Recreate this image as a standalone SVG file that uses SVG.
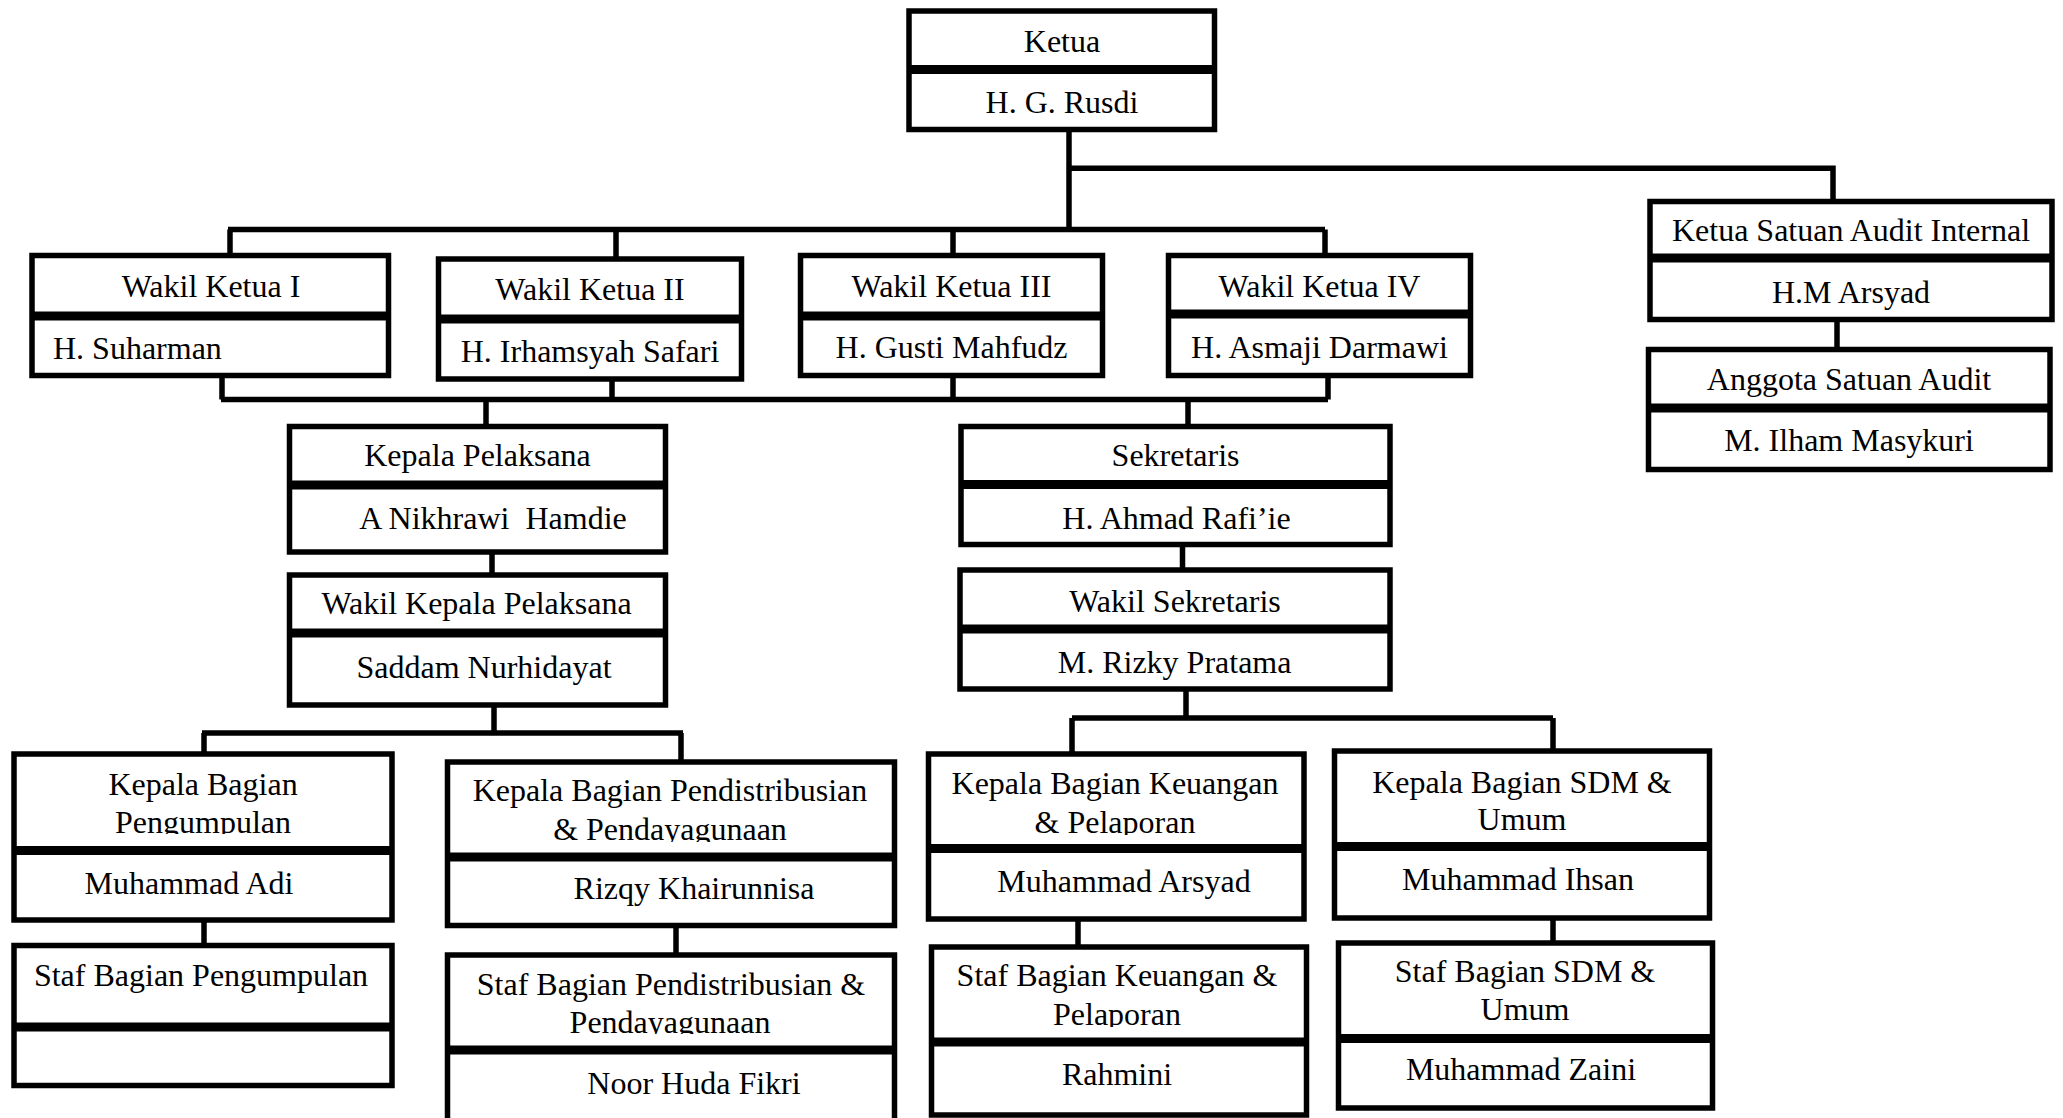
<svg xmlns="http://www.w3.org/2000/svg" width="2063" height="1118" viewBox="0 0 2063 1118">
<style>
.box{fill:#fff;stroke:#000;stroke-width:5.5}
.dv{stroke:#000;stroke-width:9}
.conn{stroke:#000;stroke-width:5.5;fill:none}
text{font-family:"Liberation Serif","Times New Roman",serif;font-size:32px;fill:#000}
.c{text-anchor:middle}
</style>
<defs>
<clipPath id="clipKBP"><rect x="0" y="700" width="420" height="134"/></clipPath>
<clipPath id="clipKBD"><rect x="440" y="700" width="460" height="142"/></clipPath>
<clipPath id="clipSBD"><rect x="440" y="900" width="460" height="134"/></clipPath>
<clipPath id="clipKBK"><rect x="920" y="700" width="390" height="135"/></clipPath>
<clipPath id="clipSBK"><rect x="920" y="900" width="390" height="127"/></clipPath>
</defs>
<g id="connectors">
<path class="conn" d="M1069 132V229.5M1069 168.3H1833V199"/>
<path class="conn" d="M228 229.5H1325M230 229.5V253M616 229.5V257M953 229.5V253M1325 229.5V253"/>
<path class="conn" d="M221 399.5H1328M222 378V399.5M612 381V399.5M953 378V399.5M1328 378V399.5M486 399.5V424M1188 399.5V424"/>
<path class="conn" d="M1837 319.5V347"/>
<path class="conn" d="M492 552V573M494 705V733M202 733H683M204 733V753M681 733V760"/>
<path class="conn" d="M204 920V943M676 925V953"/>
<path class="conn" d="M1182.5 544V568M1186 689V718M1072 718H1553M1072 718V752M1553 718V749"/>
<path class="conn" d="M1078 919V945M1553 918V941"/>
</g>
<g id="ketua">
<rect class="box" x="909" y="11" width="305.5" height="118.5"/>
<line class="dv" x1="909" y1="69.5" x2="1214.5" y2="69.5"/>
<text class="c" x="1062" y="52.3">Ketua</text>
<text class="c" x="1062" y="113.3">H. G. Rusdi</text>
</g>
<g id="wakil1">
<rect class="box" x="32" y="255.5" width="356.5" height="120"/>
<line class="dv" x1="32" y1="316" x2="388.5" y2="316"/>
<text class="c" x="211" y="297">Wakil Ketua I</text>
<text x="53" y="359">H. Suharman</text>
</g>
<g id="wakil2">
<rect class="box" x="438.5" y="259" width="303" height="120"/>
<line class="dv" x1="438.5" y1="319" x2="741.5" y2="319"/>
<text class="c" x="590" y="300">Wakil Ketua II</text>
<text class="c" x="590" y="362">H. Irhamsyah Safari</text>
</g>
<g id="wakil3">
<rect class="box" x="800.5" y="255.5" width="302" height="120"/>
<line class="dv" x1="800.5" y1="316" x2="1102.5" y2="316"/>
<text class="c" x="951.5" y="297">Wakil Ketua III</text>
<text class="c" x="951.5" y="358">H. Gusti Mahfudz</text>
</g>
<g id="wakil4">
<rect class="box" x="1168.5" y="255.5" width="302" height="120"/>
<line class="dv" x1="1168.5" y1="314" x2="1470.5" y2="314"/>
<text class="c" x="1319.5" y="297">Wakil Ketua IV</text>
<text class="c" x="1319.5" y="358">H. Asmaji Darmawi</text>
</g>
<g id="ketua-sai">
<rect class="box" x="1650" y="201.5" width="402" height="118"/>
<line class="dv" x1="1650" y1="258" x2="2052" y2="258"/>
<text class="c" x="1851" y="241">Ketua Satuan Audit Internal</text>
<text class="c" x="1851" y="303">H.M Arsyad</text>
</g>
<g id="anggota-sai">
<rect class="box" x="1648.5" y="349.5" width="401.5" height="120"/>
<line class="dv" x1="1648.5" y1="408" x2="2050" y2="408"/>
<text class="c" x="1849" y="390">Anggota Satuan Audit</text>
<text class="c" x="1849" y="451">M. Ilham Masykuri</text>
</g>
<g id="kepala-pelaksana">
<rect class="box" x="289.5" y="426.5" width="376" height="125.5"/>
<line class="dv" x1="289.5" y1="485" x2="665.5" y2="485"/>
<text class="c" x="477.5" y="466">Kepala Pelaksana</text>
<text class="c" x="493" y="529" xml:space="preserve">A Nikhrawi  Hamdie</text>
</g>
<g id="wakil-kepala-pelaksana">
<rect class="box" x="289.5" y="575" width="376" height="130"/>
<line class="dv" x1="289.5" y1="633" x2="665.5" y2="633"/>
<text class="c" x="476.5" y="614">Wakil Kepala Pelaksana</text>
<text class="c" x="484" y="678">Saddam Nurhidayat</text>
</g>
<g id="sekretaris">
<rect class="box" x="961" y="426.5" width="429" height="118"/>
<line class="dv" x1="961" y1="484.5" x2="1390" y2="484.5"/>
<text class="c" x="1175.6" y="466">Sekretaris</text>
<text class="c" x="1176.5" y="529">H. Ahmad Rafi’ie</text>
</g>
<g id="wakil-sekretaris">
<rect class="box" x="960" y="570" width="430" height="119"/>
<line class="dv" x1="960" y1="629" x2="1390" y2="629"/>
<text class="c" x="1175" y="611.5">Wakil Sekretaris</text>
<text class="c" x="1174.6" y="673">M. Rizky Pratama</text>
</g>
<g id="kabag-pengumpulan">
<rect class="box" x="14" y="754" width="378" height="166"/>
<line class="dv" x1="14" y1="850.5" x2="392" y2="850.5"/>
<g clip-path="url(#clipKBP)">
<text class="c" x="203" y="794.7">Kepala Bagian</text>
<text class="c" x="203" y="832.7">Pengumpulan</text>
</g>
<text class="c" x="189" y="893.6">Muhammad Adi</text>
</g>
<g id="staf-pengumpulan">
<rect class="box" x="14" y="945.5" width="378" height="140"/>
<line class="dv" x1="14" y1="1027" x2="392" y2="1027"/>
<text class="c" x="201" y="986">Staf Bagian Pengumpulan</text>
</g>
<g id="kabag-pendistribusian">
<rect class="box" x="447.5" y="762" width="447" height="163.5"/>
<line class="dv" x1="447.5" y1="857" x2="894.5" y2="857"/>
<g clip-path="url(#clipKBD)">
<text class="c" x="670" y="800.6">Kepala Bagian Pendistribusian</text>
<text class="c" x="670" y="839.6">&amp; Pendayagunaan</text>
</g>
<text class="c" x="694" y="899">Rizqy Khairunnisa</text>
</g>
<g id="staf-pendistribusian">
<rect class="box" x="447.5" y="955" width="447" height="200"/>
<line class="dv" x1="447.5" y1="1050" x2="894.5" y2="1050"/>
<g clip-path="url(#clipSBD)">
<text class="c" x="671" y="995">Staf Bagian Pendistribusian &amp;</text>
<text class="c" x="670" y="1032.8">Pendayagunaan</text>
</g>
<text class="c" x="694" y="1093.7">Noor Huda Fikri</text>
</g>
<g id="kabag-keuangan">
<rect class="box" x="928.5" y="754" width="375.5" height="165"/>
<line class="dv" x1="928.5" y1="848.5" x2="1304" y2="848.5"/>
<g clip-path="url(#clipKBK)">
<text class="c" x="1115" y="794">Kepala Bagian Keuangan</text>
<text class="c" x="1115" y="832.7">&amp; Pelaporan</text>
</g>
<text class="c" x="1124" y="892">Muhammad Arsyad</text>
</g>
<g id="staf-keuangan">
<rect class="box" x="931.5" y="947" width="375" height="168"/>
<line class="dv" x1="931.5" y1="1042" x2="1306.5" y2="1042"/>
<g clip-path="url(#clipSBK)">
<text class="c" x="1117" y="986">Staf Bagian Keuangan &amp;</text>
<text class="c" x="1117" y="1025">Pelaporan</text>
</g>
<text class="c" x="1117" y="1084.5">Rahmini</text>
</g>
<g id="kabag-sdm">
<rect class="box" x="1334.5" y="751" width="375" height="167"/>
<line class="dv" x1="1334.5" y1="846.5" x2="1709.5" y2="846.5"/>
<text class="c" x="1522" y="793">Kepala Bagian SDM &amp;</text>
<text class="c" x="1522" y="830">Umum</text>
<text class="c" x="1518" y="890">Muhammad Ihsan</text>
</g>
<g id="staf-sdm">
<rect class="box" x="1338.5" y="943" width="374" height="165"/>
<line class="dv" x1="1338.5" y1="1038.5" x2="1712.5" y2="1038.5"/>
<text class="c" x="1525" y="981.5">Staf Bagian SDM &amp;</text>
<text class="c" x="1525" y="1020">Umum</text>
<text class="c" x="1521" y="1080">Muhammad Zaini</text>
</g>
</svg>
